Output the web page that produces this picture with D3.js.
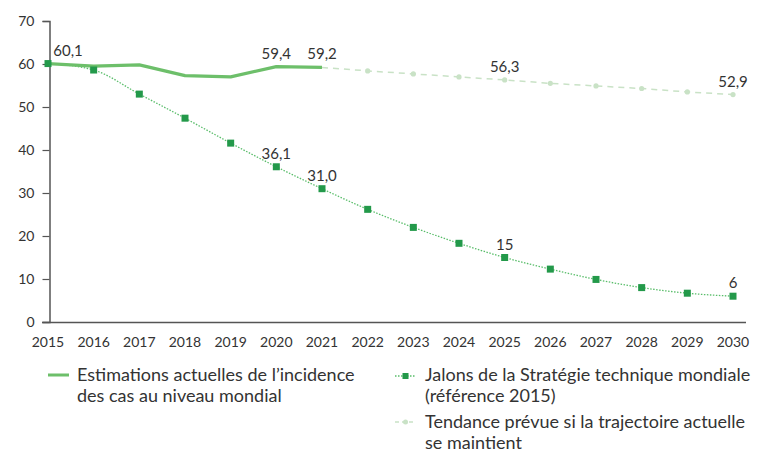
<!DOCTYPE html>
<html>
<head>
<meta charset="utf-8">
<script src="https://cdnjs.cloudflare.com/ajax/libs/d3/7.8.5/d3.min.js"></script>
<style>
  body { margin: 0; background: #fff; }
  text { font-family: Lato, "Open Sans", "DejaVu Sans", sans-serif; fill: #333; }
</style>
</head>
<body>
<div id="chart"></div>
<script>
// Data
var years = d3.range(2015, 2031);
var estimates = [60.1, 59.5, 59.8, 57.3, 57.0, 59.4, 59.2];                 // 2015-2021
var milestones = [60.1, 58.6, 53.0, 47.4, 41.6, 36.1, 31.0, 26.2, 22.0, 18.3,
                  15.0, 12.3, 9.9, 8.0, 6.7, 6.0];                            // 2015-2030
var trend = [59.2, 58.4, 57.7, 57.0, 56.3, 55.5, 54.9, 54.3, 53.5, 52.9];   // 2021-2030
var yTicks = [0, 10, 20, 30, 40, 50, 60, 70];

// labels shown on the chart: [series, year, text]
var labels = [
  ["est", 2015, "60,1"], ["est", 2020, "59,4"], ["est", 2021, "59,2"],
  ["trend", 2025, "56,3"], ["trend", 2030, "52,9"],
  ["mil", 2020, "36,1"], ["mil", 2021, "31,0"], ["mil", 2025, "15"], ["mil", 2030, "6"]
];

var colEst = "#6dbf6a", colMil = "#23994a", colMilLine = "#59bd6a", colTrend = "#c9e2c6";

var W = 767, H = 454;
var svg = d3.select("#chart").append("svg")
    .attr("width", W).attr("height", H);

var xScale = d3.scaleLinear().domain([2015, 2030]).range([48, 733]);
var yScale = d3.scaleLinear().domain([0, 70]).range([322, 21]);

// y axis
var yAxis = d3.axisLeft(yScale).tickValues(yTicks).tickSize(7).tickPadding(8);
var gy = svg.append("g").attr("transform", "translate(49.5,0)").call(yAxis);
gy.select(".domain").attr("stroke", "#555").attr("stroke-width", 1.5);
gy.selectAll(".tick line").attr("stroke", "#555").attr("stroke-width", 1.2);
gy.selectAll(".tick text").style("font-size", "14px").attr("fill", "#333");

// x axis
svg.append("line")
    .attr("x1", 42).attr("x2", 746).attr("y1", 322.5).attr("y2", 322.5)
    .attr("stroke", "#555").attr("stroke-width", 1.5);
svg.append("g").selectAll("text").data(years).enter().append("text")
    .attr("x", function(d) { return xScale(d); })
    .attr("y", 347)
    .attr("text-anchor", "middle")
    .style("font-size", "14px")
    .text(function(d) { return d; });

var line = d3.line()
    .x(function(d) { return xScale(d[0]); })
    .y(function(d) { return yScale(d[1]); });

var estData = estimates.map(function(v, i) { return [2015 + i, v]; });
var milData = milestones.map(function(v, i) { return [2015 + i, v]; });
var trendData = trend.map(function(v, i) { return [2021 + i, v]; });

// trend (dashed)
svg.append("path").datum(trendData)
    .attr("d", line).attr("fill", "none")
    .attr("stroke", colTrend).attr("stroke-width", 1.5)
    .attr("stroke-dasharray", "6,5");
svg.selectAll(".tdot").data(trendData.slice(1)).enter().append("circle")
    .attr("class", "tdot")
    .attr("cx", function(d) { return xScale(d[0]); })
    .attr("cy", function(d) { return yScale(d[1]); })
    .attr("r", 2.6).attr("fill", colTrend);

// milestones (dotted + squares)
svg.append("path").datum(milData)
    .attr("d", d3.line().curve(d3.curveMonotoneX)
        .x(function(d) { return xScale(d[0]); })
        .y(function(d) { return yScale(d[1]); }))
    .attr("fill", "none")
    .attr("stroke", colMilLine).attr("stroke-width", 1.3)
    .attr("stroke-dasharray", "1.5,1.5");

// estimates (solid)
svg.append("path").datum(estData)
    .attr("d", line).attr("fill", "none")
    .attr("stroke", colEst).attr("stroke-width", 3.2)
    .attr("stroke-linejoin", "round");

svg.selectAll(".mdot").data(milData).enter().append("rect")
    .attr("class", "mdot")
    .attr("x", function(d) { return xScale(d[0]) - 3.5; })
    .attr("y", function(d) { return yScale(d[1]) - 3.5; })
    .attr("width", 7).attr("height", 7)
    .attr("fill", colMil);

// value labels
var lookup = {
  est: function(y) { return estimates[y - 2015]; },
  mil: function(y) { return milestones[y - 2015]; },
  trend: function(y) { return trend[y - 2021]; }
};
svg.selectAll(".vlab").data(labels).enter().append("text")
    .attr("class", "vlab")
    .attr("x", function(d) { return xScale(d[1]) + (d[1] === 2015 ? 20 : 0); })
    .attr("y", function(d) { return yScale(lookup[d[0]](d[1])) - 8; })
    .attr("text-anchor", "middle")
    .style("font-size", "15px")
    .text(function(d) { return d[2]; });

// legend
var lg = svg.append("g").style("font-size", "18px");
lg.append("line").attr("x1", 48).attr("x2", 69).attr("y1", 375).attr("y2", 375)
    .attr("stroke", colEst).attr("stroke-width", 3);
lg.append("text").attr("x", 77).attr("y", 381).text("Estimations actuelles de l\u2019incidence");
lg.append("text").attr("x", 77).attr("y", 402).text("des cas au niveau mondial");

lg.append("line").attr("x1", 395).attr("x2", 416).attr("y1", 376).attr("y2", 376)
    .attr("stroke", colMilLine).attr("stroke-width", 1.3).attr("stroke-dasharray", "1.5,1.5");
lg.append("rect").attr("x", 402.5).attr("y", 373).attr("width", 6).attr("height", 6).attr("fill", colMil);
lg.append("text").attr("x", 425).attr("y", 381).text("Jalons de la Strat\u00e9gie technique mondiale");
lg.append("text").attr("x", 425).attr("y", 402).text("(r\u00e9f\u00e9rence 2015)");

lg.append("line").attr("x1", 395).attr("x2", 416).attr("y1", 422).attr("y2", 422)
    .attr("stroke", colTrend).attr("stroke-width", 1.3).attr("stroke-dasharray", "4,3");
lg.append("circle").attr("cx", 405.5).attr("cy", 422).attr("r", 2.5).attr("fill", colTrend);
lg.append("text").attr("x", 425).attr("y", 428).text("Tendance pr\u00e9vue si la trajectoire actuelle");
lg.append("text").attr("x", 425).attr("y", 449).text("se maintient");
</script>
</body>
</html>
